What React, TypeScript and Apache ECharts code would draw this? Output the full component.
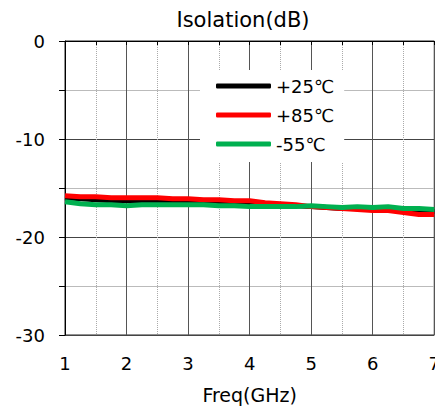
import React, { useEffect, useRef } from "react";
import * as echarts from "echarts";

const freq = [1, 1.25, 1.5, 1.75, 2, 2.25, 2.5, 2.75, 3, 3.25, 3.5, 3.75, 4, 4.25, 4.5, 4.75, 5, 5.25, 5.5, 5.75, 6, 6.25, 6.5, 6.75, 7];
const t25 = [-16.0, -16.1, -16.2, -16.3, -16.3, -16.3, -16.3, -16.4, -16.4, -16.4, -16.5, -16.5, -16.6, -16.7, -16.8, -16.8, -16.9, -17.0, -17.1, -17.1, -17.2, -17.2, -17.3, -17.4, -17.4];
const t85 = [-15.8, -15.9, -15.9, -16.0, -16.0, -16.0, -16.0, -16.1, -16.1, -16.2, -16.2, -16.3, -16.3, -16.5, -16.6, -16.7, -16.9, -17.0, -17.1, -17.2, -17.3, -17.3, -17.5, -17.7, -17.7];
const tm55 = [-16.4, -16.6, -16.7, -16.7, -16.8, -16.7, -16.7, -16.7, -16.7, -16.7, -16.8, -16.8, -16.9, -16.9, -16.9, -16.9, -16.8, -16.9, -17.0, -16.9, -17.0, -16.9, -17.1, -17.1, -17.2];
const seriesNames = ["+25℃", "+85℃", "-55℃"];
const seriesColors = ["#000000", "#ff0000", "#00b050"];

export default function App() {
  const ref = useRef<HTMLDivElement>(null);
  useEffect(() => {
    const chart = echarts.init(ref.current!, null, { renderer: "svg" });
    const font = "DejaVu Sans";
    const datasets = [t25, t85, tm55];
    chart.setOption({
      animation: false,
      textStyle: { fontFamily: font },
      title: {
        text: "Isolation(dB)",
        left: 238,
        textAlign: "center",
        top: 4,
        textStyle: { fontFamily: font, fontSize: 21, fontWeight: "normal", color: "#000" },
      },
      legend: {
        orient: "vertical",
        left: 200,
        top: 70,
        padding: [6, 10, 8, 16],
        backgroundColor: "#ffffff",
        itemWidth: 55,
        itemHeight: 5,
        itemGap: 9,
        icon: "roundRect",
        textStyle: { fontFamily: font, fontSize: 18, color: "#000", lineHeight: 20 },
        data: seriesNames,
      },
      grid: {
        left: 65,
        right: 7,
        top: 41,
        bottom: 79,
        show: true,
        borderColor: "#222",
        borderWidth: 1,
      },
      xAxis: {
        type: "value",
        min: 1,
        max: 7,
        interval: 1,
        name: "Freq(GHz)",
        nameLocation: "middle",
        nameGap: 50,
        nameTextStyle: { fontFamily: font, fontSize: 19, color: "#000" },
        axisLine: { lineStyle: { color: "#000" } },
        axisTick: { show: true, length: 4, lineStyle: { color: "#000" } },
        minorTick: { show: true, splitNumber: 2, length: 4, lineStyle: { color: "#000" } },
        axisLabel: { fontFamily: font, fontSize: 18, color: "#000", margin: 19 },
        splitLine: { show: true, lineStyle: { color: "#555", width: 1 } },
        minorSplitLine: { show: true, lineStyle: { color: "#aaa", type: "dotted", width: 1 } },
      },
      yAxis: {
        type: "value",
        min: -30,
        max: 0,
        interval: 10,
        axisLine: { show: true, lineStyle: { color: "#000" } },
        axisTick: { show: true, length: 6, lineStyle: { color: "#000" } },
        minorTick: { show: true, splitNumber: 2, length: 6, lineStyle: { color: "#000" } },
        axisLabel: { fontFamily: font, fontSize: 18, color: "#000", margin: 20 },
        splitLine: { show: true, lineStyle: { color: "#444", width: 1 } },
        minorSplitLine: { show: true, lineStyle: { color: "#bbb", width: 1 } },
      },
      series: seriesNames.map((name, i) => ({
        name,
        type: "line",
        showSymbol: false,
        symbol: "none",
        color: seriesColors[i],
        lineStyle: { width: 5, color: seriesColors[i] },
        data: freq.map((f, j) => [f, datasets[i][j]]),
        z: 3 + i,
      })),
    });
    return () => chart.dispose();
  }, []);
  return <div ref={ref} style={{ width: 443, height: 414, margin: -8 }} />;
}
